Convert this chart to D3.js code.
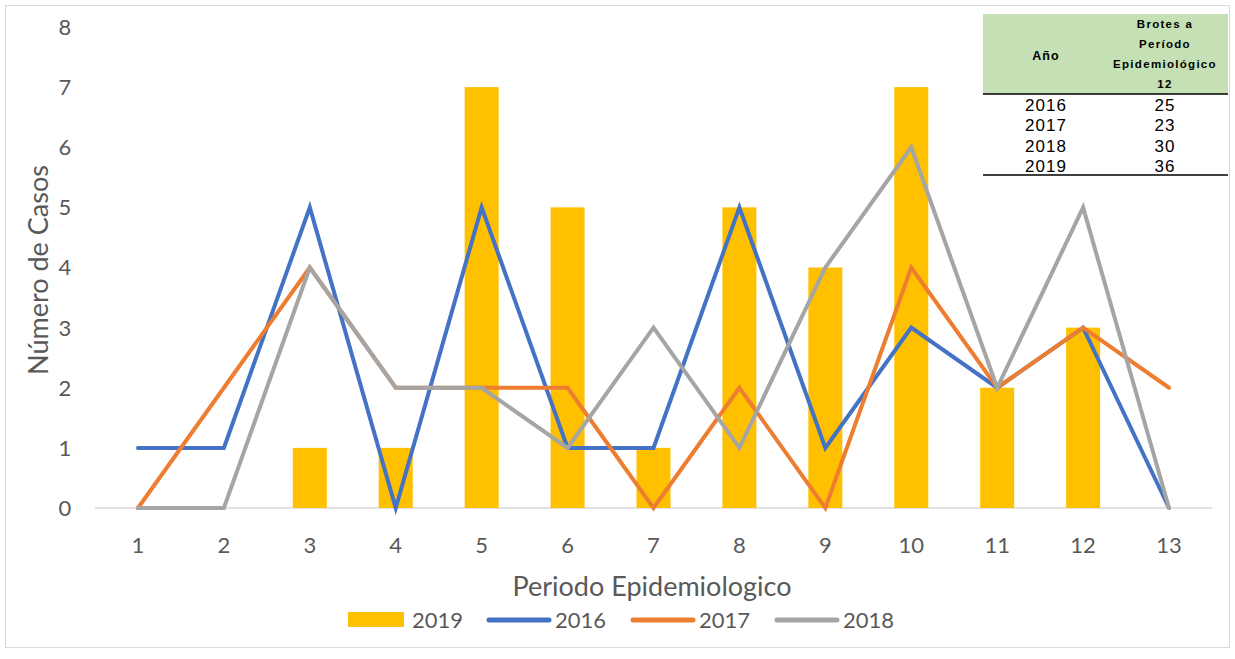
<!DOCTYPE html>
<html><head><meta charset="utf-8">
<script src="https://cdn.jsdelivr.net/npm/d3@7"></script>
<style>body{margin:0;background:#fff;} .lt{font-family:Lato,"Open Sans",sans-serif;} .ar{font-family:"Liberation Sans",Arial,sans-serif;}</style>
</head><body>
<svg id="c" width="1235" height="659"></svg>
<script>
const periods = ["1","2","3","4","5","6","7","8","9","10","11","12","13"];
const s2019 = [0,0,1,1,7,5,1,5,4,7,2,3,0];
const s2016 = [1,1,5,0,5,1,1,5,1,3,2,3,0];
const s2017 = [0,2,4,2,2,2,0,2,0,4,2,3,2];
const s2018 = [0,0,4,2,2,1,3,1,4,6,2,5,0];
const yTicks = [0,1,2,3,4,5,6,7,8];
const tableYears = ["2016","2017","2018","2019"];
const tableBrotes = ["25","23","30","36"];

const svg = d3.select("#c");
svg.append("rect").attr("x",5.5).attr("y",5.5).attr("width",1224).attr("height",642)
  .attr("fill","#fff").attr("stroke","#d9d9d9");

const x = d3.scaleBand().domain(periods).range([95,1212]);
const y = d3.scaleLinear().domain([0,8]).range([508,27]);
const gray="#595959";

// y tick labels
svg.append("g").selectAll("text").data(yTicks).join("text").attr("class","lt")
  .attr("x",65).attr("y",d=>y(d)).attr("dy","0.36em").attr("text-anchor","middle")
  .attr("font-size",22).attr("fill",gray).text(d=>d);
// x axis line
svg.append("line").attr("x1",95).attr("x2",1212).attr("y1",y(0)).attr("y2",y(0))
  .attr("stroke","#d9d9d9").attr("stroke-width",1.5);
// x tick labels
svg.append("g").selectAll("text").data(periods).join("text").attr("class","lt")
  .attr("x",d=>x(d)+x.bandwidth()/2).attr("y",545).attr("dy","0.36em").attr("text-anchor","middle")
  .attr("font-size",22).attr("fill",gray).text(d=>d);

// titles
svg.append("text").attr("class","lt").attr("transform","translate(38,270) rotate(-90)").attr("text-anchor","middle")
  .attr("dy","0.36em").attr("font-size",27).attr("fill",gray).text("Número de Casos");
svg.append("text").attr("class","lt").attr("x",652).attr("y",586).attr("dy","0.36em").attr("text-anchor","middle")
  .attr("font-size",27).attr("fill",gray).text("Periodo Epidemiologico");

// bars
const bw = 34;
svg.append("g").selectAll("rect").data(s2019.map((v,i)=>({p:periods[i],v}))).join("rect")
  .attr("x",d=>x(d.p)+x.bandwidth()/2-bw/2).attr("width",bw)
  .attr("y",d=>y(d.v)).attr("height",d=>y(0)-y(d.v)).attr("fill","#FFC000");

// lines
const line = d3.line().x((d,i)=>x(periods[i])+x.bandwidth()/2).y(d=>y(d));
const series = [[s2016,"#4472C4"],[s2017,"#ED7D31"],[s2018,"#A5A5A5"]];
series.forEach(([s,c])=>{
  svg.append("path").attr("d",line(s)).attr("fill","none").attr("stroke",c)
    .attr("stroke-width",4).attr("stroke-linejoin","miter").attr("stroke-linecap","round");
});

// legend
const lg = svg.append("g");
lg.append("rect").attr("x",348).attr("y",612).attr("width",56).attr("height",15).attr("fill","#FFC000");
lg.append("text").attr("class","lt").attr("x",412).attr("y",620).attr("dy","0.36em").attr("font-size",22).attr("fill",gray).text("2019");
const legItems=[["2016","#4472C4",489],["2017","#ED7D31",633],["2018","#A5A5A5",777]];
legItems.forEach(([t,c,lx])=>{
  lg.append("line").attr("x1",lx).attr("x2",lx+60).attr("y1",620).attr("y2",620)
    .attr("stroke",c).attr("stroke-width",5).attr("stroke-linecap","round");
  lg.append("text").attr("class","lt").attr("x",lx+66).attr("y",620).attr("dy","0.36em").attr("font-size",22).attr("fill",gray).text(t);
});

// table
const tg = svg.append("g");
tg.append("rect").attr("x",983).attr("y",14).attr("width",245).attr("height",80).attr("fill","#C5E0B4");
tg.append("text").attr("class","ar").attr("x",1046).attr("y",55).attr("dy","0.36em").attr("text-anchor","middle")
  .attr("font-weight","bold").attr("font-size",12.5).attr("letter-spacing",1).text("Año");
["Brotes a","Período","Epidemiológico","12"].forEach((t,i)=>{
  tg.append("text").attr("class","ar").attr("x",1165).attr("y",24+i*20).attr("dy","0.36em").attr("text-anchor","middle")
    .attr("font-weight","bold").attr("font-size",11.5)
    .attr("letter-spacing",1.3).text(t);
});
tg.append("line").attr("x1",983).attr("x2",1228).attr("y1",94).attr("y2",94).attr("stroke","#000").attr("stroke-width",1.5);
tg.append("line").attr("x1",983).attr("x2",1228).attr("y1",175).attr("y2",175).attr("stroke","#000").attr("stroke-width",1.5);
tableYears.forEach((yr,i)=>{
  tg.append("text").attr("class","ar").attr("x",1046).attr("y",105+i*20.3).attr("dy","0.36em").attr("text-anchor","middle")
    .attr("font-size",17).attr("letter-spacing",1).text(yr);
  tg.append("text").attr("class","ar").attr("x",1165).attr("y",105+i*20.3).attr("dy","0.36em").attr("text-anchor","middle")
    .attr("font-size",17).attr("letter-spacing",1).text(tableBrotes[i]);
});
</script>
</body></html>
